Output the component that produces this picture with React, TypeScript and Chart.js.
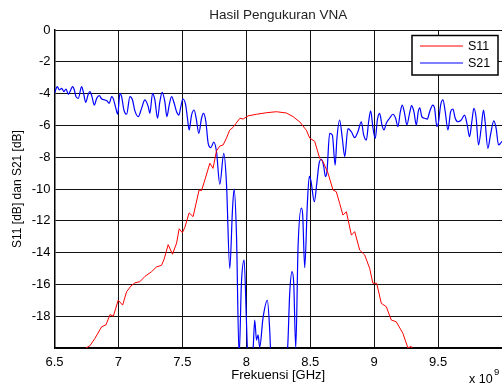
import React, { useEffect, useRef } from 'react';
import { Chart, registerables } from 'chart.js';

Chart.register(...registerables);

// S11 (red) — frequency in GHz, magnitude in dB
const s11Freq = [
  6.746, 6.777, 6.816, 6.869, 6.902, 6.934, 6.96, 6.998, 7.033, 7.064, 7.098, 7.129, 7.168, 7.207,
  7.259, 7.298, 7.337, 7.358, 7.389, 7.423, 7.455, 7.475, 7.5, 7.52, 7.553, 7.584, 7.631, 7.65,
  7.676, 7.715, 7.74, 7.767, 7.793, 7.819, 7.845, 7.87, 7.897, 7.92, 7.95, 7.975, 8.014, 8.08,
  8.16, 8.236, 8.314, 8.366, 8.405, 8.418, 8.457, 8.47, 8.496, 8.535, 8.574, 8.6, 8.639, 8.678,
  8.704, 8.73, 8.756, 8.783, 8.822, 8.848, 8.887, 8.926, 8.965, 8.99, 9.02, 9.056, 9.095, 9.134,
  9.173, 9.225, 9.264, 9.29, 9.31,
];
const s11Db = [
  -20.0, -19.86, -19.4, -18.66, -18.55, -17.9, -18.0, -17.0, -17.3, -16.46, -16.1, -15.9, -15.83, -15.5,
  -15.2, -14.9, -14.8, -14.4, -13.5, -14.1, -13.4, -12.5, -12.75, -12.4, -11.5, -11.74, -10.06, -10.1,
  -9.43, -8.38, -8.7, -7.6, -7.3, -7.23, -6.8, -6.3, -6.12, -5.87, -5.55, -5.6, -5.4, -5.3,
  -5.2, -5.14, -5.22, -5.45, -5.7, -5.77, -6.18, -6.3, -6.8, -7.0, -8.07, -8.28, -9.0, -10.06,
  -10.17, -10.9, -11.64, -11.43, -12.9, -12.68, -13.84, -14.15, -14.99, -15.93, -15.93, -17.19, -17.4, -18.24,
  -18.35, -19.08, -20.0, -19.9, -20.3,
];

// S21 (blue)
const s21Freq = [
  6.5, 6.522, 6.538, 6.556, 6.574, 6.59, 6.608, 6.627, 6.642, 6.655, 6.668, 6.686, 6.712, 6.725,
  6.744, 6.762, 6.777, 6.793, 6.811, 6.83, 6.85, 6.869, 6.895, 6.912, 6.928, 6.947, 6.959, 6.98,
  6.994, 7.012, 7.025, 7.043, 7.064, 7.09, 7.11, 7.129, 7.155, 7.181, 7.207, 7.233, 7.246, 7.267,
  7.285, 7.306, 7.324, 7.342, 7.363, 7.379, 7.397, 7.416, 7.436, 7.455, 7.473, 7.488, 7.504, 7.525,
  7.54, 7.553, 7.572, 7.592, 7.608, 7.629, 7.65, 7.666, 7.684, 7.702, 7.723, 7.746, 7.767, 7.793,
  7.824, 7.845, 7.871, 7.892, 7.905, 7.923, 7.944, 7.962, 7.983, 8.0, 8.009, 8.03, 8.053, 8.066,
  8.08, 8.092, 8.105, 8.131, 8.165, 8.184, 8.19, 8.25, 8.322, 8.34, 8.358, 8.371, 8.387, 8.405,
  8.431, 8.441, 8.457, 8.478, 8.493, 8.506, 8.532, 8.552, 8.569, 8.588, 8.606, 8.619, 8.631, 8.652,
  8.673, 8.695, 8.709, 8.73, 8.751, 8.77, 8.795, 8.822, 8.848, 8.873, 8.9, 8.918, 8.939, 8.957,
  8.973, 8.991, 9.009, 9.025, 9.043, 9.061, 9.077, 9.095, 9.121, 9.147, 9.168, 9.186, 9.205, 9.22,
  9.238, 9.256, 9.277, 9.293, 9.311, 9.33, 9.345, 9.357, 9.373, 9.394, 9.416, 9.434, 9.459, 9.473,
  9.491, 9.504, 9.52, 9.538, 9.556, 9.577, 9.598, 9.616, 9.634, 9.655, 9.681, 9.707, 9.728, 9.746,
  9.764, 9.78, 9.798, 9.816, 9.837, 9.855, 9.868, 9.889, 9.91, 9.936, 9.954, 9.973, 9.988, 10.0,
];
const s21Db = [
  -3.98, -3.56, -3.77, -3.67, -3.88, -3.71, -4.05, -3.77, -3.56, -3.77, -4.19, -4.3, -3.56, -3.88,
  -4.55, -4.09, -3.88, -4.19, -4.72, -4.3, -4.13, -4.34, -4.4, -4.47, -4.61, -4.19, -4.3, -4.93,
  -5.3, -3.98, -4.19, -5.03, -5.3, -4.19, -4.4, -5.09, -5.45, -4.93, -4.4, -4.82, -5.24, -3.98,
  -4.4, -5.55, -4.51, -3.92, -4.51, -5.45, -4.72, -4.19, -4.61, -5.14, -5.35, -4.82, -4.34, -4.67,
  -5.55, -6.29, -5.35, -5.03, -5.55, -6.5, -5.55, -5.24, -5.77, -7.13, -7.4, -7.05, -7.65, -9.7,
  -7.76, -9.64, -15.0, -11.3, -10.0, -12.8, -20.5, -15.93, -14.47, -18.0, -20.1, -21.0, -20.1, -18.24,
  -19.5, -19.18, -19.95, -18.1, -17.0, -19.0, -20.1, -21.5, -20.1, -16.5, -15.2, -15.93, -20.0, -13.63,
  -11.2, -11.6, -14.95, -10.85, -9.2, -9.5, -10.8, -9.6, -8.4, -8.13, -8.6, -9.22, -8.9, -6.5,
  -6.6, -8.5, -6.81, -5.66, -6.81, -7.97, -6.2, -6.4, -6.77, -6.4, -5.77, -6.6, -6.92, -5.77,
  -5.09, -6.18, -6.81, -5.66, -5.24, -5.97, -6.29, -5.87, -5.55, -5.3, -5.55, -6.08, -5.14, -4.72,
  -5.24, -5.97, -5.24, -4.76, -5.14, -5.97, -5.14, -4.89, -5.45, -5.55, -5.6, -5.14, -4.72, -4.93,
  -6.08, -5.77, -4.72, -4.4, -5.14, -6.29, -5.14, -4.97, -5.55, -5.77, -5.66, -5.35, -5.97, -6.71,
  -5.77, -4.93, -5.55, -7.23, -6.18, -5.03, -5.77, -7.44, -6.6, -5.72, -6.18, -7.23, -7.13, -7.0,
];

const seriesLabels = ['S11', 'S21'];
const seriesColors = ['#ff0000', '#0000ff'];
const chartTitle = 'Hasil Pengukuran VNA';
const xTitle = 'Frekuensi [GHz]';
const yTitle = 'S11 [dB] dan S21 [dB]';
const xMin = 6.5;
const xMax = 10;
const xStep = 0.5;
const yMin = -20;
const yMax = 0;
const yStep = 2;

const FONT = '"Liberation Sans", Arial, Helvetica, sans-serif';
const X_TICK_PAD = 7;
const CANVAS_W = 502 + X_TICK_PAD;
const CANVAS_H = 385;

const overlayPlugin = {
  id: 'matlabOverlay',
  afterDatasetsDraw(chart: any) {
    const { ctx, chartArea } = chart;
    ctx.save();
    // legend box
    const bx = chartArea.right - 90;
    const by = chartArea.top + 5.5;
    const bw = 86;
    const bh = 39.5;
    ctx.fillStyle = '#ffffff';
    ctx.fillRect(bx, by, bw, bh);
    ctx.strokeStyle = '#000000';
    ctx.lineWidth = 1.5;
    ctx.strokeRect(bx, by, bw, bh);
    const rows = [by + 10.5, by + 27.5];
    chart.data.datasets.forEach((ds: any, i: number) => {
      const y = rows[i];
      ctx.strokeStyle = ds.borderColor;
      ctx.lineWidth = 1;
      ctx.beginPath();
      ctx.moveTo(bx + 8, y);
      ctx.lineTo(bx + 51, y);
      ctx.stroke();
      ctx.fillStyle = '#000000';
      ctx.font = `12.5px ${FONT}`;
      ctx.textBaseline = 'middle';
      ctx.textAlign = 'left';
      ctx.fillText(ds.label, bx + 56, y + 0.5);
    });
    ctx.restore();
  },
  afterDraw(chart: any) {
    const { ctx } = chart;
    ctx.save();
    ctx.fillStyle = '#000000';
    ctx.textBaseline = 'middle';
    ctx.textAlign = 'left';
    ctx.font = `12.5px ${FONT}`;
    ctx.fillText('x 10', 469, 380);
    ctx.font = `9.5px ${FONT}`;
    ctx.fillText('9', 494, 372);
    ctx.restore();
  },
};

export default function App() {
  const canvasRef = useRef<HTMLCanvasElement | null>(null);

  useEffect(() => {
    const canvas = canvasRef.current;
    if (!canvas) return;
    Chart.defaults.font.family = FONT;
    Chart.defaults.color = '#000000';

    const chart = new Chart(canvas, {
      type: 'line',
      data: {
        datasets: [
          {
            label: seriesLabels[0],
            data: s11Freq.map((f, i) => ({ x: f, y: s11Db[i] })),
            borderColor: seriesColors[0],
            borderWidth: 1,
            pointRadius: 0,
            tension: 0,
            clip: 0,
          },
          {
            label: seriesLabels[1],
            data: s21Freq.map((f, i) => ({ x: f, y: s21Db[i] })),
            borderColor: seriesColors[1],
            borderWidth: 1.2,
            pointRadius: 0,
            cubicInterpolationMode: 'monotone',
            clip: 0,
          },
        ],
      },
      options: {
        animation: false,
        responsive: false,
        maintainAspectRatio: false,
        events: [],
        layout: { padding: 0 },
        plugins: {
          legend: { display: false },
          tooltip: { enabled: false },
          title: {
            display: true,
            fullSize: false,
            text: chartTitle,
            color: '#222222',
            font: { family: FONT, size: 13.5, weight: 'normal' },
            padding: { top: 7.4, bottom: 6.4 },
          },
        },
        scales: {
          x: {
            type: 'linear',
            min: xMin,
            max: xMax,
            ticks: {
              stepSize: xStep,
              padding: X_TICK_PAD,
              autoSkip: false,
              maxRotation: 0,
              color: '#000000',
              font: { family: FONT, size: 13 },
              callback: (v: any) => (v === xMax ? '' : String(v)),
            },
            grid: {
              color: (c: any) => (c.tick && c.tick.value === xMax ? 'rgba(0,0,0,0)' : '#111111'),
              lineWidth: 1,
              drawTicks: false,
            },
            border: { color: '#000000', width: 1.5 },
            title: {
              display: true,
              text: xTitle,
              color: '#000000',
              font: { family: FONT, size: 13 },
              padding: { top: 0, bottom: 2 },
            },
            afterFit: (s: any) => {
              s.height = 37;
            },
          },
          y: {
            type: 'linear',
            min: yMin,
            max: yMax,
            ticks: {
              stepSize: yStep,
              padding: 4,
              color: '#000000',
              font: { family: FONT, size: 13 },
              callback: (v: any) => (v === yMin ? '' : String(v)),
            },
            grid: {
              color: '#111111',
              lineWidth: 1,
              drawTicks: false,
            },
            border: { color: '#000000', width: 1.5 },
            title: {
              display: true,
              text: yTitle,
              color: '#000000',
              font: { family: FONT, size: 12 },
              padding: { top: 10, bottom: 0 },
            },
            afterFit: (s: any) => {
              s.width = 54.5;
            },
          },
        },
      } as any,
      plugins: [overlayPlugin],
    });

    return () => {
      chart.destroy();
    };
  }, []);

  return (
    <div style={{ position: 'absolute', left: 0, top: 0, width: 502, height: 385, background: '#ffffff', overflow: 'hidden' }}>
      <canvas ref={canvasRef} width={CANVAS_W} height={CANVAS_H} style={{ display: 'block', width: CANVAS_W, height: CANVAS_H }} />
    </div>
  );
}
